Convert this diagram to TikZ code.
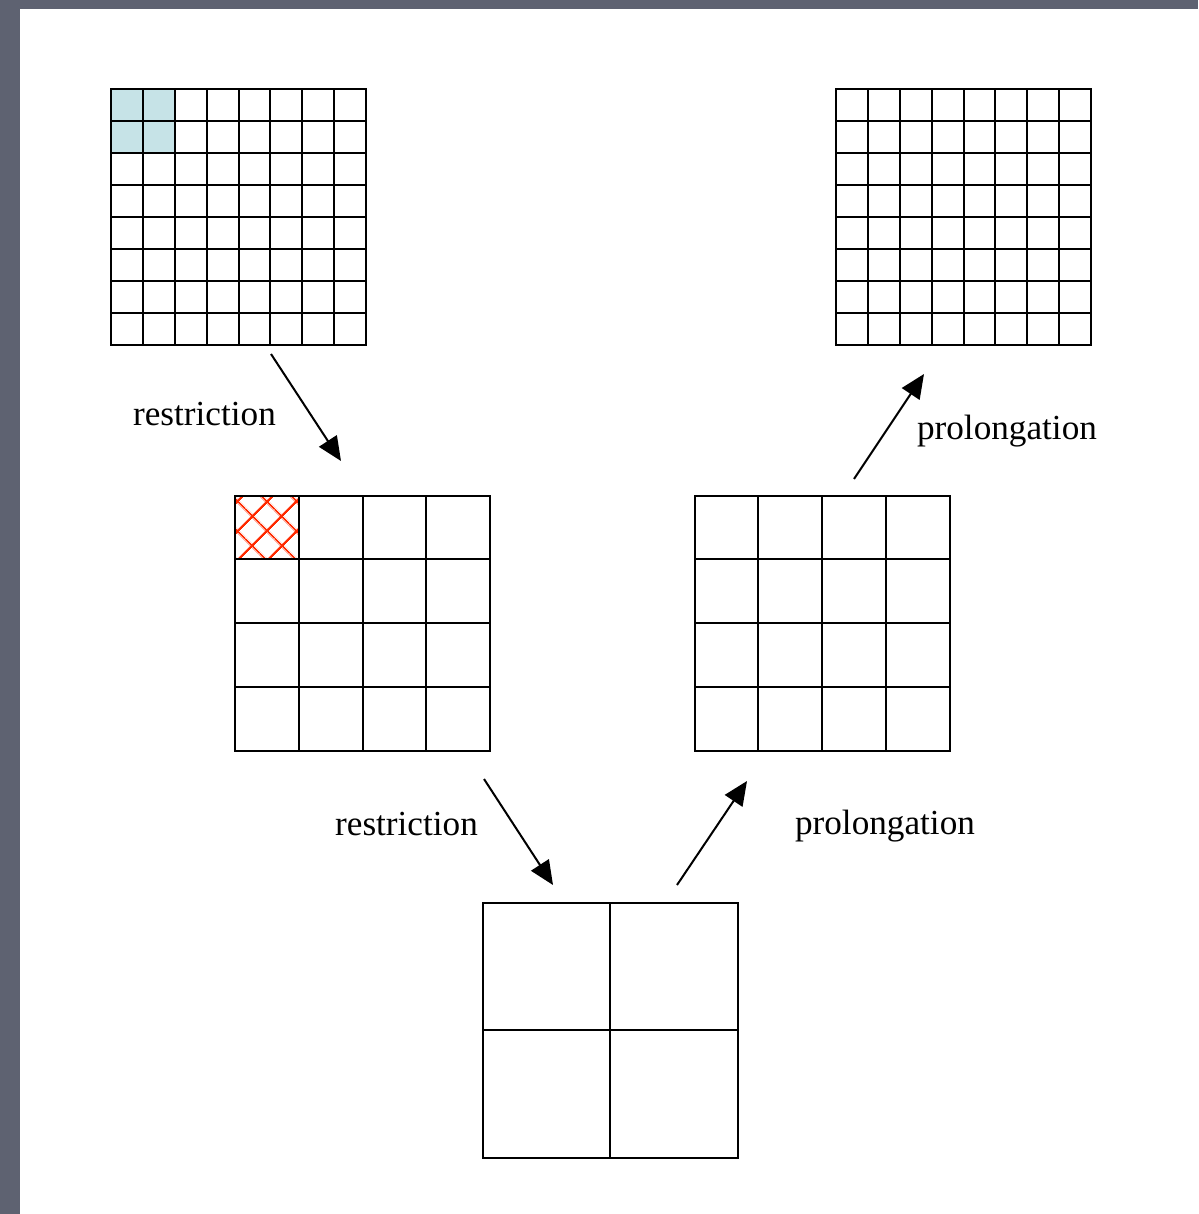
\documentclass[tikz,border=0pt]{standalone}
\usepackage{xcolor}
\usepackage{fontspec}
\setmainfont{Liberation Serif}
\usepackage{tikz}
\usetikzlibrary{positioning, arrows.meta, calc, patterns.meta}
\definecolor{framegray}{HTML}{5E6271}
\definecolor{cellblue}{HTML}{C6E3E7}
\definecolor{hatchred}{HTML}{FF2A00}

\tikzset{
  gridbox/.style={draw, line width=1pt, minimum size=127.5pt, inner sep=0pt, outer sep=0pt},
  gridline/.style={line width=1pt},
  levelarrow/.style={line width=1pt, -{Triangle[length=12pt, width=10.5pt]}},
  steplabel/.style={font=\fontsize{17.6}{21}\selectfont, inner sep=0pt}
}

% inner lines of a square mesh: node name, number of inner lines
\newcommand{\meshlines}[2]{%
  \foreach \k in {1,...,#2} {
    \draw[gridline] ($(#1.north west)!\k/(#2+1)!(#1.north east)$) -- ($(#1.south west)!\k/(#2+1)!(#1.south east)$);
    \draw[gridline] ($(#1.north west)!\k/(#2+1)!(#1.south west)$) -- ($(#1.north east)!\k/(#2+1)!(#1.south east)$);
  }}

\begin{document}
\begin{tikzpicture}[x=0.5pt, y=-0.5pt]
  \useasboundingbox (0,0) rectangle (1198,1214);
  \fill[framegray] (0,0) rectangle (1198,1214);
  \fill[white] (20,9) rectangle (1198,1214);

  % grids
  \node[gridbox] (fine) at (238.5,217) {};
  \node[gridbox] (fineout) at (963.5,217) {};
  \node[gridbox] (mid) at (362.5,623) {};
  \node[gridbox] (midout) at (822,623) {};
  \node[gridbox] (coarse) at (610,1030) {};

  \fill[cellblue] (fine.north west) rectangle ($(fine.north west)!0.25!(fine.south east)$);
  \path[pattern={Hatch[angle=45, distance=10.5pt, line width=1.1pt]}, pattern color=hatchred]
    (mid.north west) rectangle ($(mid.north west)!0.25!(mid.south east)$);

  \meshlines{fine}{7}
  \meshlines{fineout}{7}
  \meshlines{mid}{3}
  \meshlines{midout}{3}
  \meshlines{coarse}{1}
  \foreach \g in {fine, fineout, mid, midout, coarse}
    \draw[line width=1pt] (\g.north west) rectangle (\g.south east);

  % arrows
  \coordinate (r1 from) at (271,354);
  \coordinate (r1 to) at (341,461);
  \coordinate (r2 from) at (484,779);
  \coordinate (r2 to) at (553,885);
  \coordinate (p2 from) at (677,885);
  \coordinate (p2 to) at (747,781);
  \coordinate (p1 from) at (854,479);
  \coordinate (p1 to) at (924,374);

  \draw[levelarrow] (r1 from) -- (r1 to);
  \draw[levelarrow] (r2 from) -- (r2 to);
  \draw[levelarrow] (p2 from) -- (p2 to);
  \draw[levelarrow] (p1 from) -- (p1 to);

  \node[steplabel] (r1 label) at (204.5,414) {restriction};
  \node[steplabel] (r2 label) at (406.5,824) {restriction};
  \node[steplabel] (p2 label) at (885,826) {prolongation};
  \node[steplabel] (p1 label) at (1007,431) {prolongation};
\end{tikzpicture}
\end{document}
